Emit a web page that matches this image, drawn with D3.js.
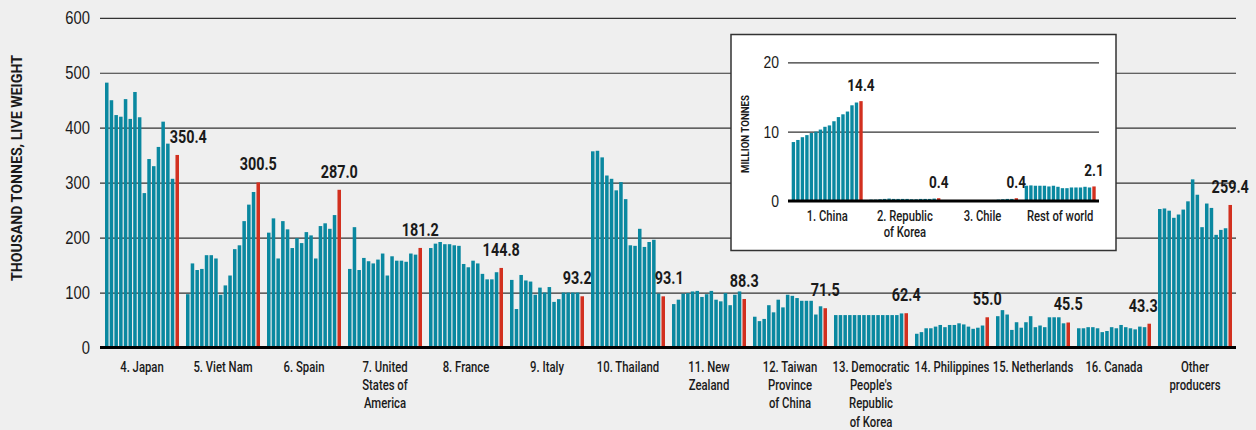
<!DOCTYPE html>
<html><head><meta charset="utf-8">
<script src="https://cdn.jsdelivr.net/npm/d3@7"></script>
<style>
html,body{margin:0;padding:0;background:#efefef;}
svg{display:block;font-family:Roboto,"Liberation Sans",sans-serif;}
</style></head><body><svg id="c" width="1256" height="430"></svg>
<script>
// ---------- DATA ----------
const categories = ["4. Japan","5. Viet Nam","6. Spain","7. United\nStates of\nAmerica","8. France","9. Italy","10. Thailand","11. New\nZealand","12. Taiwan\nProvince\nof China","13. Democratic\nPeople's\nRepublic\nof Korea","14. Philippines","15. Netherlands","16. Canada","Other\nproducers"];
const japan       = [482,450,423,420,452,416,465,419,281,343,330,365,411,371,307,350.4];
const vietNam     = [97,153,141,143,168,168,162,96,113,131,179,186,230,260,283,300.5];
const spain       = [209,235,162,230,215,181,199,190,210,204,162,221,226,216,241,287.0];
const usa         = [143,219,141,163,157,153,160,171,131,166,158,158,156,171,169,181.2];
const france      = [181,189,192,188,188,186,185,152,146,158,153,134,124,124,137,144.8];
const italy       = [123,70,132,122,120,96,109,100,110,83,88,100,100,100,100,93.2];
const thailand    = [357,358,346,313,307,286,301,270,186,185,216,183,192,196,98,93.1];
const newZealand  = [79,87,98,99,102,103,92,97,103,87,84,99,77,96,102,88.3];
const taiwan      = [56,48,52,77,64,87,73,96,94,90,85,85,85,60,75,71.5];
const dprk        = [59,59,59,59,59,59,59,59,59,59,59,59,59,59,62,62.4];
const philippines = [25,28,35,35,38,41,37,41,41,44,42,38,34,36,40,55.0];
const netherlands = [57,68,60,32,46,36,46,57,37,40,37,55,55,55,44,45.5];
const canada      = [35,35,37,37,35,28,30,37,35,41,37,35,33,38,37,43.3];
const others      = [252,253,249,236,242,251,266,306,278,219,262,254,205,214,217,259.4];
const mainSeries  = [japan,vietNam,spain,usa,france,italy,thailand,newZealand,taiwan,dprk,philippines,netherlands,canada,others];
const yTicks = [0,100,200,300,400,500,600];

const insetCategories = ["1. China","2. Republic\nof Korea","3. Chile","Rest of world"];
const china      = [8.5,8.8,9.2,9.5,9.8,10.0,10.3,10.7,10.9,11.5,12.1,12.5,12.9,13.8,14.2,14.4];
const korea      = [0.2,0.2,0.25,0.3,0.35,0.3,0.3,0.3,0.3,0.25,0.25,0.3,0.3,0.3,0.35,0.4];
const chile      = [0.05,0.05,0.05,0.05,0.05,0.1,0.1,0.1,0.1,0.1,0.15,0.2,0.25,0.3,0.3,0.4];
const restWorld  = [2.2,2.25,2.2,2.2,2.2,2.1,2.2,2.05,1.85,1.85,1.95,1.95,1.95,2.05,1.95,2.1];
const insetSeries = [china,korea,chile,restWorld];
const insetTicks = [0,10,20];

// ---------- STYLE ----------
const TEAL = "#0a88a0", RED = "#d2301f", INK = "#1a1a1a", GRID = "#333";
const svg = d3.select("#c");
const nBars = 16;
const labelShift = {"4. Japan":11,"9. Italy":-5,"10. Thailand":6,"16. Canada":-6};

// condense text (reference uses a condensed face)
function condense(sel, f) {
  sel.each(function(){
    const w = this.getComputedTextLength();
    if (w > 0) d3.select(this).attr("textLength", w*f).attr("lengthAdjust","spacingAndGlyphs");
  });
}

// ---------- MAIN CHART ----------
const x0 = d3.scaleBand().domain(categories).range([105,1232]).paddingInner(0.0864).paddingOuter(0);
const x1 = d3.scaleBand().domain(d3.range(nBars)).range([0,x0.bandwidth()]).paddingInner(0.25).paddingOuter(0);
const y = d3.scaleLinear().domain([0,600]).range([347.5,17.8]);

const yAxis = svg.append("g").attr("transform","translate(100,0)")
  .call(d3.axisLeft(y).tickValues(yTicks).tickSize(-1136).tickPadding(10).tickFormat(d3.format("d")));
yAxis.select(".domain").remove();
yAxis.selectAll("line").attr("stroke",GRID).attr("stroke-width",1.2);
yAxis.selectAll("text").attr("font-size",18).attr("fill",INK).attr("font-family",null).attr("font-weight",500);
condense(yAxis.selectAll("text"),0.82);

const groups = svg.append("g").selectAll("g").data(categories).join("g")
  .attr("transform",d=>`translate(${x0(d)},0)`);
groups.selectAll("rect").data((d,i)=>mainSeries[i].map((v,j)=>({v,j}))).join("rect")
  .attr("x",d=>x1(d.j)).attr("width",x1.bandwidth())
  .attr("y",d=>y(d.v)).attr("height",d=>y(0)-y(d.v))
  .attr("fill",d=>d.j===nBars-1?RED:TEAL);

// baseline
svg.append("line").attr("x1",100).attr("x2",1236).attr("y1",y(0)).attr("y2",y(0)).attr("stroke","#000").attr("stroke-width",3);

// value labels
const vl = groups.append("text")
  .attr("x",(d)=>x1(nBars-1)+x1.bandwidth()/2+(labelShift[d]||0))
  .attr("y",(d,i)=>y(mainSeries[i][nBars-1])-12)
  .attr("text-anchor","middle").attr("font-size",18).attr("font-weight","bold").attr("fill",INK)
  .text((d,i)=>mainSeries[i][nBars-1].toFixed(1));
condense(vl,0.8);

// category labels
const cl = groups.append("text").attr("text-anchor","middle").attr("font-size",15.5).attr("fill",INK).attr("font-weight",500)
  .selectAll("tspan").data(d=>d.split("\n")).join("tspan")
  .attr("x",x0.bandwidth()/2).attr("y",(d,i)=>372+i*18.2).text(d=>d);
condense(cl,0.73);

// axis title
svg.append("text").attr("transform","translate(22,168) rotate(-90)").attr("text-anchor","middle")
  .attr("font-size",15).attr("font-weight","bold").attr("fill",INK)
  .attr("textLength",226).attr("lengthAdjust","spacingAndGlyphs")
  .text("THOUSAND TONNES, LIVE WEIGHT");

// ---------- INSET ----------
svg.append("rect").attr("x",731).attr("y",34.5).attr("width",385).attr("height",216)
  .attr("fill","#fff").attr("stroke","#333").attr("stroke-width",1.5);

const ix0 = d3.scaleBand().domain(insetCategories).range([791.7,1095.7]).paddingInner(0.086).paddingOuter(0);
const ix1 = d3.scaleBand().domain(d3.range(nBars)).range([0,ix0.bandwidth()]).paddingInner(0.25).paddingOuter(0);
const iy = d3.scaleLinear().domain([0,20]).range([201,62.3]);

const iAxis = svg.append("g").attr("transform","translate(788,0)")
  .call(d3.axisLeft(iy).tickValues(insetTicks).tickSize(-311).tickPadding(9).tickFormat(d3.format("d")));
iAxis.select(".domain").remove();
iAxis.selectAll("line").attr("stroke",GRID).attr("stroke-width",1.2);
iAxis.selectAll("text").attr("font-size",17).attr("fill",INK).attr("font-family",null).attr("font-weight",500);
condense(iAxis.selectAll("text"),0.82);

const igroups = svg.append("g").selectAll("g").data(insetCategories).join("g")
  .attr("transform",d=>`translate(${ix0(d)},0)`);
igroups.selectAll("rect").data((d,i)=>insetSeries[i].map((v,j)=>({v,j}))).join("rect")
  .attr("x",d=>ix1(d.j)).attr("width",ix1.bandwidth())
  .attr("y",d=>iy(d.v)).attr("height",d=>iy(0)-iy(d.v))
  .attr("fill",d=>d.j===nBars-1?RED:TEAL);

svg.append("line").attr("x1",788).attr("x2",1099).attr("y1",iy(0)).attr("y2",iy(0)).attr("stroke","#000").attr("stroke-width",3);

const ivl = igroups.append("text")
  .attr("x",ix1(nBars-1)+ix1.bandwidth()/2)
  .attr("y",(d,i)=>iy(insetSeries[i][nBars-1])-10)
  .attr("text-anchor","middle").attr("font-size",17).attr("font-weight","bold").attr("fill",INK)
  .text((d,i)=>insetSeries[i][nBars-1].toFixed(1));
condense(ivl,0.8);

const icl = igroups.append("text").attr("text-anchor","middle").attr("font-size",15).attr("fill",INK).attr("font-weight",500)
  .selectAll("tspan").data(d=>d.split("\n")).join("tspan")
  .attr("x",ix0.bandwidth()/2).attr("y",(d,i)=>221+i*16).text(d=>d);
condense(icl,0.75);

svg.append("text").attr("transform","translate(749,134) rotate(-90)").attr("text-anchor","middle")
  .attr("font-size",11).attr("font-weight","bold").attr("fill",INK)
  .attr("textLength",78).attr("lengthAdjust","spacingAndGlyphs")
  .text("MILLION TONNES");
</script></body></html>
